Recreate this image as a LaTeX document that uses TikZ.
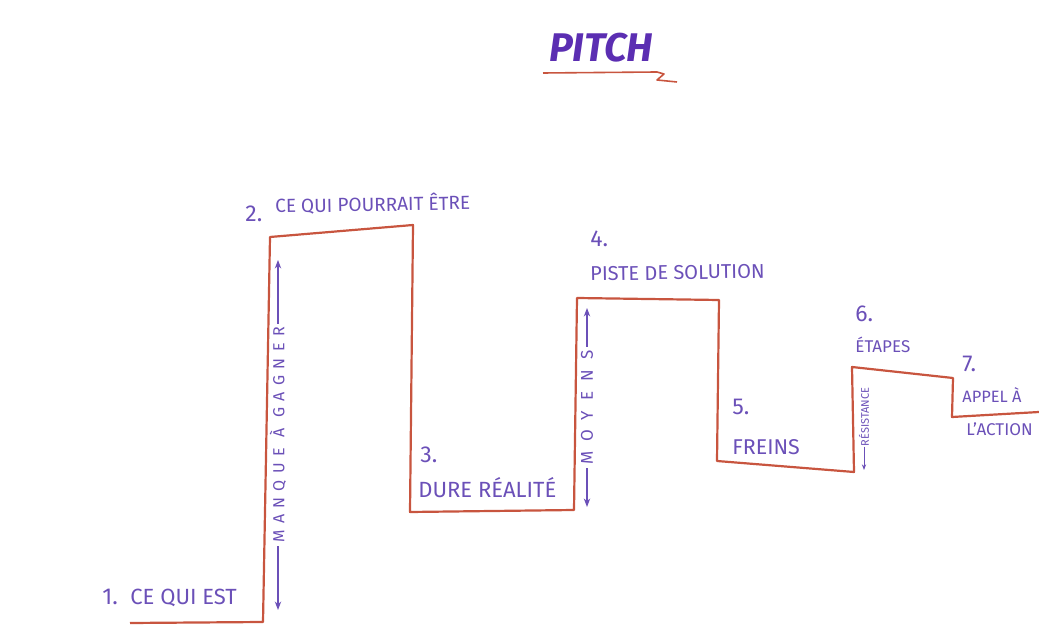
\documentclass[tikz,border=0pt]{standalone}
\usepackage{fontspec}
\setmainfont{Fira Sans}
\usetikzlibrary{arrows.meta}
\definecolor{stairred}{HTML}{C8553F}
\definecolor{inkpurple}{HTML}{6B50B8}
\definecolor{titleviolet}{HTML}{5B2EB2}

\begin{document}
\begin{tikzpicture}[x=0.5pt,y=-0.5pt,
  stair/.style={draw=stairred,line width=1.1pt,line join=round},
  num/.style={inkpurple,anchor=base west,inner sep=0pt,font=\fontsize{11.5}{12}\selectfont},
  lbl/.style={inkpurple,anchor=base west,inner sep=0pt,font=\fontsize{10}{11}\selectfont},
  gap/.style={inkpurple,rotate=90,fill=white,inner sep=1.5pt,font=\fontsize{8}{9}\selectfont\addfontfeature{LetterSpace=40}},
  span/.style={{Stealth[length=1.5mm]}-{Stealth[length=1.5mm]},inkpurple,semithick}]
  \useasboundingbox (0,0) rectangle (1039,625);
  % titre
  \node[titleviolet,font=\fontsize{20}{22}\bfseries\itshape\selectfont] (title) at (601,48) {PITCH};
  \draw[stairred,thick,line join=round] (543,73) -- (657,72) -- (664,74) -- (657,80) -- (677,82);
  % etapes
  \node[num] (n1) at (102,604) {1.};
  \node[lbl,font=\fontsize{11}{12}\selectfont] (t1) at (130,604) {CE QUI EST};
  \node[num] (n2) at (245,222) {2.};
  \node[lbl,font=\fontsize{9.5}{10}\selectfont,rotate=1] (t2) at (275,213) {CE QUI POURRAIT ÊTRE};
  \node[num] (n3) at (420,463) {3.};
  \node[lbl,font=\fontsize{11}{12}\selectfont] (t3) at (418,498) {DURE RÉALITÉ};
  \node[num] (n4) at (590,247) {4.};
  \node[lbl,rotate=1] (t4) at (590,281) {PISTE DE SOLUTION};
  \node[num] (n5) at (732,415) {5.};
  \node[lbl,font=\fontsize{10.7}{11}\selectfont] (t5) at (732,455) {FREINS};
  \node[num] (n6) at (855,322) {6.};
  \node[lbl,font=\fontsize{8.5}{9}\selectfont] (t6) at (855,353) {ÉTAPES};
  \node[num] (n7) at (962,372) {7.};
  \node[lbl,font=\fontsize{8.2}{9}\selectfont] (t7) at (962,403) {APPEL À};
  \node[lbl,font=\fontsize{8.5}{9}\selectfont] (t7b) at (966,436) {L'ACTION};
  % ecarts
  \coordinate (g1a) at (278,610);
  \coordinate (g1b) at (278,260);
  \draw[span] (g1a) -- (g1b) node[gap,midway] (manque) {MANQUE À GAGNER};
  \coordinate (g2a) at (587,507);
  \coordinate (g2b) at (587,308);
  \draw[span] (g2a) -- (g2b) node[gap,midway,font=\fontsize{8.5}{9}\selectfont\addfontfeature{LetterSpace=60}] (moyens) {MOYENS};
  \node[inkpurple,rotate=90,inner sep=0pt,font=\fontsize{5.5}{6}\selectfont] (resist) at (864,417) {RÉSISTANCE};
  \coordinate (g3) at (864,470);
  \draw[-{Stealth[length=1mm]},inkpurple] (resist.west) -- (g3);
  % escalier
  \draw[stair] (130,623) -- (263,622) -- (270,237) -- (413,225) -- (410,512) -- (574,510)
    -- (577,298) -- (719,300) -- (717,461) -- (854,472) -- (852,367) -- (953,378)
    -- (952,417) -- (1039,412);
\end{tikzpicture}
\end{document}
